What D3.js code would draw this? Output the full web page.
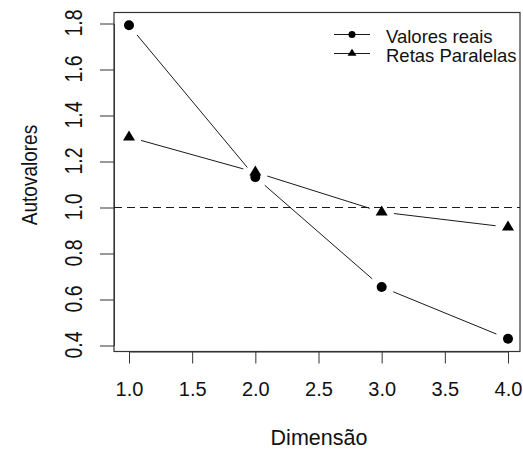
<!DOCTYPE html>
<html>
<head>
<meta charset="utf-8">
<script src="https://cdn.jsdelivr.net/npm/d3@7"></script>
<style>
  html, body { margin: 0; padding: 0; background: #fff; }
  svg { display: block; }
  text { font-family: "Liberation Sans", Arial, sans-serif; fill: #111; }
</style>
</head>
<body>
<svg id="chart" width="523" height="450"></svg>
<script>
// ---- data ----
const dims = [1, 2, 3, 4];
const valoresReais = [1.79, 1.13, 0.652, 0.427];
const retasParalelas = [1.304, 1.151, 0.978, 0.912];
const xTicks = [1.0, 1.5, 2.0, 2.5, 3.0, 3.5, 4.0];
const yTicks = [0.4, 0.6, 0.8, 1.0, 1.2, 1.4, 1.6, 1.8];
const refLine = 1.0;
const seriesNames = ["Valores reais", "Retas Paralelas"];
const xTitle = "Dimensão";
const yTitle = "Autovalores";

// ---- layout ----
const svg = d3.select("#chart");
const box = { left: 114, right: 520, top: 12.5, bottom: 351.5 };
const x = d3.scaleLinear().domain([1, 4]).range([129, 508]);
const y = d3.scaleLinear().domain([0.4, 1.8]).range([345, 23]);
const ink = "#1a1a1a";

// box
svg.append("rect")
  .attr("x", box.left).attr("y", box.top)
  .attr("width", box.right - box.left).attr("height", box.bottom - box.top)
  .attr("fill", "none").attr("stroke", "#333").attr("stroke-width", 1.2);

// x axis (R style: line from first to last tick, ticks down)
const xAxis = d3.axisBottom(x).tickValues(xTicks).tickFormat(d3.format(".1f"))
  .tickSizeInner(12).tickSizeOuter(0).tickPadding(4);
const gx = svg.append("g").attr("transform", `translate(0,${box.bottom})`).call(xAxis);
gx.select(".domain").attr("stroke", "#333");
gx.selectAll(".tick line").attr("stroke", "#333");
gx.selectAll(".tick text").remove();
gx.selectAll(".tick").append("text")
  .attr("y", 395.5 - box.bottom).attr("text-anchor", "middle")
  .style("font-size", "20px").text(d => d3.format(".1f")(d));

// y axis
const yAxis = d3.axisLeft(y).tickValues(yTicks).tickSizeInner(14).tickSizeOuter(0).tickFormat("");
const gy = svg.append("g").attr("transform", `translate(${box.left},0.5)`).call(yAxis);
gy.select(".domain").attr("stroke", "#333");
gy.selectAll(".tick line").attr("stroke", "#333");
svg.append("g").selectAll("text").data(yTicks).join("text")
  .attr("transform", d => `translate(82,${y(d)}) scale(1.18,1) rotate(-90)`)
  .attr("text-anchor", "middle").style("font-size", "19.5px")
  .text(d => d3.format(".1f")(d));

// titles
svg.append("text").attr("x", 319).attr("y", 445).attr("text-anchor", "middle")
  .style("font-size", "21.5px").text(xTitle);
svg.append("text").attr("transform", `translate(37,175) scale(1.18,1) rotate(-90)`)
  .attr("text-anchor", "middle").style("font-size", "19px").text(yTitle);

// dashed reference line
svg.append("line").attr("x1", box.left).attr("x2", box.right)
  .attr("y1", y(refLine) + 0.5).attr("y2", y(refLine) + 0.5)
  .attr("stroke", ink).attr("stroke-width", 1).attr("stroke-dasharray", "8,5");

// type="b" lines with gaps around points
function gappedSegments(vals, gap) {
  const segs = [];
  for (let i = 0; i < vals.length - 1; i++) {
    const x1 = x(dims[i]), y1 = y(vals[i]), x2 = x(dims[i + 1]), y2 = y(vals[i + 1]);
    const len = Math.hypot(x2 - x1, y2 - y1);
    if (len <= 2 * gap) continue;
    const ux = (x2 - x1) / len, uy = (y2 - y1) / len;
    segs.push({ x1: x1 + ux * gap, y1: y1 + uy * gap, x2: x2 - ux * gap, y2: y2 - uy * gap });
  }
  return segs;
}
[valoresReais, retasParalelas].forEach(vals => {
  svg.append("g").selectAll("line").data(gappedSegments(vals, 12.5)).join("line")
    .attr("x1", d => d.x1).attr("y1", d => d.y1).attr("x2", d => d.x2).attr("y2", d => d.y2)
    .attr("stroke", ink).attr("stroke-width", 1);
});

// points
const tri = (cx, cy, w, h) => `M${cx - w / 2},${cy + h / 3}L${cx + w / 2},${cy + h / 3}L${cx},${cy - 2 * h / 3}Z`;
svg.append("g").selectAll("circle").data(valoresReais).join("circle")
  .attr("cx", (d, i) => x(dims[i])).attr("cy", d => y(d)).attr("r", 5).attr("fill", "#000");
svg.append("g").selectAll("path").data(retasParalelas).join("path")
  .attr("d", (d, i) => tri(x(dims[i]), y(d), 12, 10)).attr("fill", "#000");

// legend
const leg = svg.append("g");
const legRows = [34.5, 53.5];
seriesNames.forEach((name, i) => {
  const ly = legRows[i];
  leg.append("line").attr("x1", 334).attr("x2", 370).attr("y1", ly).attr("y2", ly)
    .attr("stroke", ink).attr("stroke-width", 1);
  if (i === 0) {
    leg.append("circle").attr("cx", 352).attr("cy", ly).attr("r", 3.5).attr("fill", "#000");
  } else {
    leg.append("path").attr("d", tri(352, ly, 9, 7)).attr("fill", "#000");
  }
  leg.append("text").attr("x", 386).attr("y", ly + 8.5).style("font-size", "18.5px").text(name);
});
</script>
</body>
</html>
